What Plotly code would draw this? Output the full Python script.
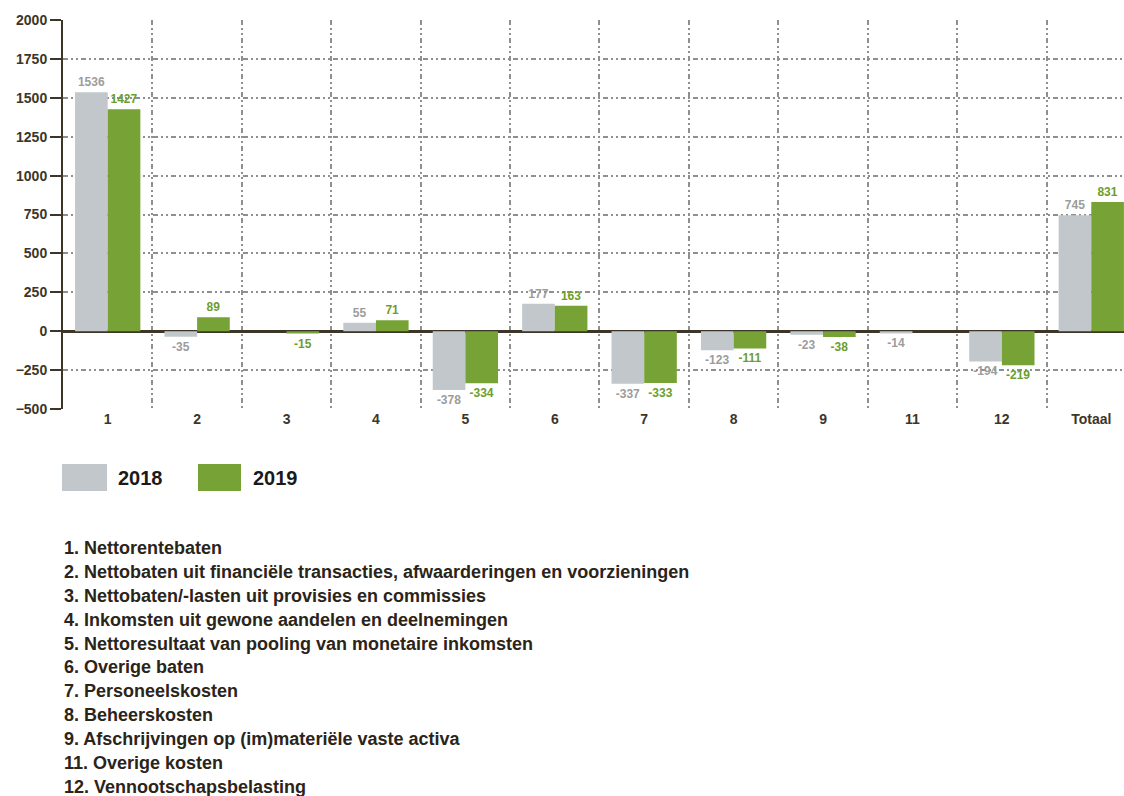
import plotly.graph_objects as go

# Categories and yearly values (EUR mln)
categories = ["1", "2", "3", "4", "5", "6", "7", "8", "9", "11", "12", "Totaal"]
values_2018 = [1536, -35, None, 55, -378, 177, -337, -123, -23, -14, -194, 745]
values_2019 = [1427, 89, -15, 71, -334, 163, -333, -111, -38, None, -219, 831]
series_names = ["2018", "2019"]
y_ticks = [-500, -250, 0, 250, 500, 750, 1000, 1250, 1500, 1750, 2000]

footnotes = [
    "1. Nettorentebaten",
    "2. Nettobaten uit financiële transacties, afwaarderingen en voorzieningen",
    "3. Nettobaten/-lasten uit provisies en commissies",
    "4. Inkomsten uit gewone aandelen en deelnemingen",
    "5. Nettoresultaat van pooling van monetaire inkomsten",
    "6. Overige baten",
    "7. Personeelskosten",
    "8. Beheerskosten",
    "9. Afschrijvingen op (im)materiële vaste activa",
    "11. Overige kosten",
    "12. Vennootschapsbelasting",
]

GREY = "#c1c7ca"
GREEN = "#76a236"
GREY_TXT = "#9c9c9c"
GREEN_TXT = "#6c9e2c"
DARK = "#3d3628"
FONT = "Liberation Sans, Arial, sans-serif"

W, H = 1124, 796
L, R, T, B = 63, 0, 20, 387
plot_w = W - L - R
plot_h = H - T - B


def px_x(px):
    return (px - L) / plot_w


def px_y(py):
    return (H - B - py) / plot_h


fig = go.Figure()
for name, vals, col, tcol in [
    (series_names[0], values_2018, GREY, GREY_TXT),
    (series_names[1], values_2019, GREEN, GREEN_TXT),
]:
    fig.add_trace(go.Bar(
        x=categories, y=vals, name=name,
        marker=dict(color=col, line=dict(width=0)),
        text=[("" if v is None else str(v)) for v in vals],
        textposition="outside",
        textfont=dict(family=FONT, size=12, color=tcol, weight="bold"),
        cliponaxis=False,
        showlegend=False,
    ))

grid = dict(gridcolor="#8f8f8f", gridwidth=1.6, griddash="5px,3px,2px,3px,2px,3px")

fig.update_layout(
    width=W, height=H,
    margin=dict(l=L, r=R, t=T, b=B),
    paper_bgcolor="white", plot_bgcolor="white",
    barmode="group", bargap=0.27, bargroupgap=0,
    font=dict(family=FONT, color=DARK),
    uniformtext=dict(minsize=8, mode="show"),
    xaxis=dict(
        type="category", range=[-0.5, 11.366], tickson="boundaries",
        showgrid=True, **grid, ticks="", showline=False, zeroline=False,
        tickfont=dict(family=FONT, size=14, color=DARK, weight="bold"),
    ),
    yaxis=dict(
        range=[-500, 2000], tickvals=y_ticks,
        showgrid=True, **grid,
        ticks="outside", ticklen=11, tickwidth=2, tickcolor=DARK,
        showline=True, linecolor=DARK, linewidth=2,
        zeroline=True, zerolinecolor=DARK, zerolinewidth=2.5,
        tickfont=dict(family=FONT, size=14, color=DARK, weight="bold"),
    ),
)

# Legend swatches
legend_items = [(series_names[0], GREY, 62, 107, 116), (series_names[1], GREEN, 198, 241, 251)]
for name, col, x0, x1, tx in legend_items:
    fig.add_shape(type="rect", xref="paper", yref="paper",
                  x0=px_x(x0), x1=px_x(x1), y0=px_y(491), y1=px_y(464),
                  fillcolor=col, line=dict(width=0))
    fig.add_annotation(xref="paper", yref="paper", x=px_x(tx), y=px_y(478),
                       xanchor="left", yanchor="middle", showarrow=False,
                       text="<b>%s</b>" % name,
                       font=dict(family=FONT, size=20, color="#1a1a1a"))

# Category explanations
for i, line in enumerate(footnotes):
    fig.add_annotation(xref="paper", yref="paper", x=px_x(62), y=px_y(548 + i * 23.9),
                       xanchor="left", yanchor="middle", showarrow=False,
                       text="<b>%s</b>" % line,
                       font=dict(family=FONT, size=18, color="#2b2418"))

fig.write_html("out.html")
